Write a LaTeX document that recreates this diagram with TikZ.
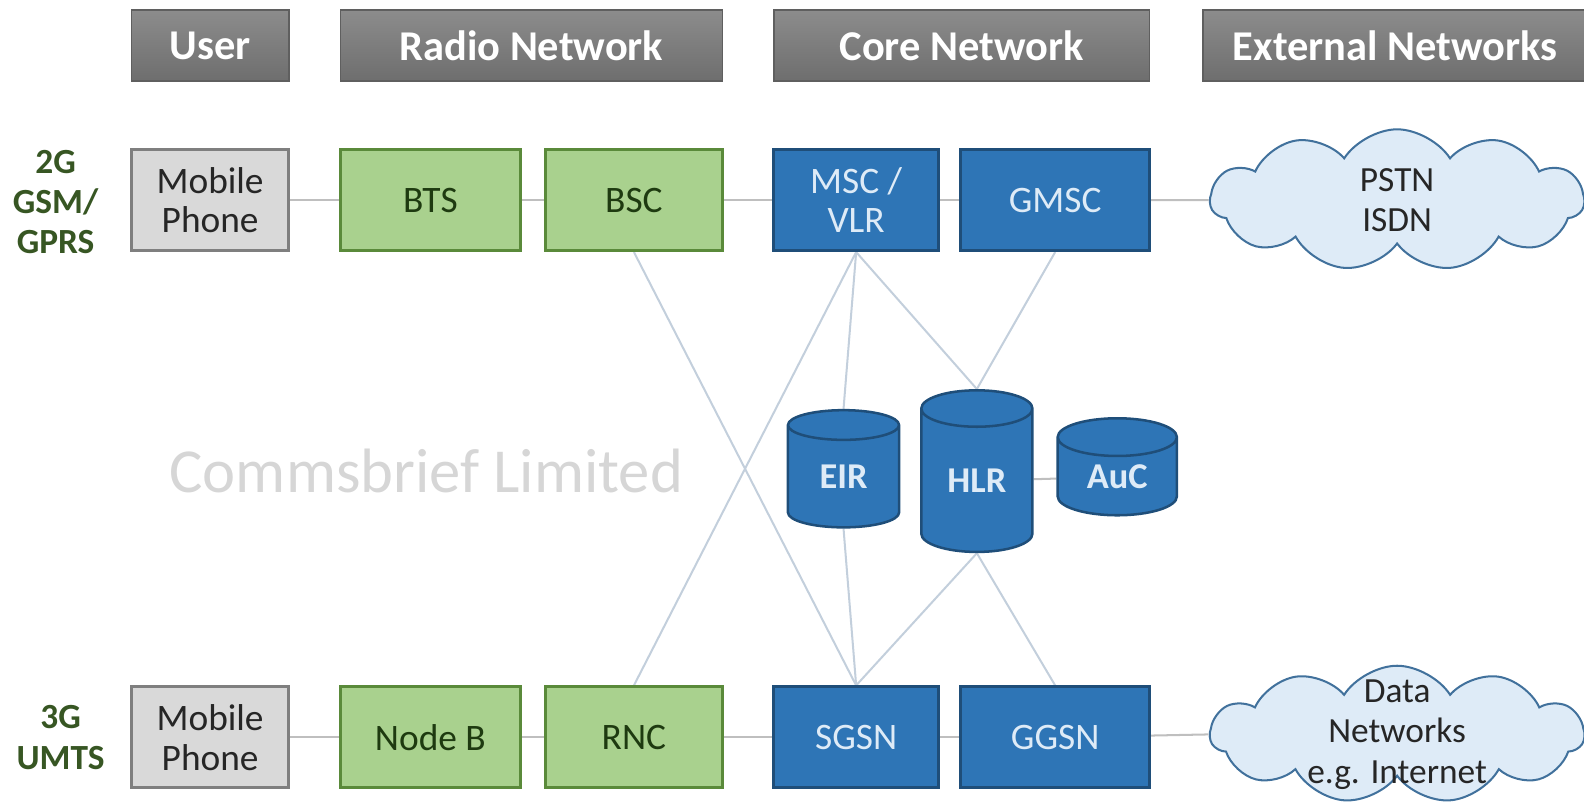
\documentclass[tikz,border=0pt]{standalone}
\usepackage{fontspec}
\setmainfont{Carlito}
\usetikzlibrary{shapes.geometric,shapes.symbols}
\pgfdeclarelayer{background}
\pgfsetlayers{background,main}

\definecolor{hdrtop}{HTML}{8C8C8C}
\definecolor{hdrbot}{HTML}{6E6E6E}
\definecolor{hdredge}{HTML}{5F5F5F}
\definecolor{usrfill}{HTML}{D9D9D9}
\definecolor{usredge}{HTML}{7F7F7F}
\definecolor{usrtext}{HTML}{262626}
\definecolor{grnfill}{HTML}{A9D18E}
\definecolor{grnedge}{HTML}{5A8A3A}
\definecolor{grntext}{HTML}{1E3A10}
\definecolor{blufill}{HTML}{2E75B6}
\definecolor{bluedge}{HTML}{1F4E79}
\definecolor{blutext}{HTML}{DEEBF7}
\definecolor{cloudfill}{HTML}{DEEBF7}
\definecolor{cloudedge}{HTML}{41719C}
\definecolor{cloudtext}{HTML}{262626}
\definecolor{linkcol}{HTML}{C3CFDC}
\definecolor{rowlink}{HTML}{BFBFBF}
\definecolor{gentext}{HTML}{375623}
\definecolor{wmark}{HTML}{D6D6D6}

\begin{document}
\begin{tikzpicture}[x=1pt,y=-1pt,
  hdr/.style={draw=hdredge, line width=1.5pt, top color=hdrtop, bottom color=hdrbot,
    text=white, font=\fontsize{42}{46}\selectfont\bfseries, minimum height=70, inner sep=0pt},
  boxbase/.style={line width=3pt, minimum height=100, inner sep=0pt, align=center,
    font=\fontsize{37}{39}\selectfont},
  usrbox/.style={boxbase, draw=usredge, fill=usrfill, text=usrtext, minimum width=156},
  grnbox/.style={boxbase, draw=grnedge, fill=grnfill, text=grntext},
  blubox/.style={boxbase, draw=bluedge, fill=blufill, text=blutext},
  dbase/.style={cylinder, shape border rotate=90, aspect=0.62, draw=bluedge, fill=blufill,
    line width=2.5pt, text=blutext, inner sep=0pt, font=\fontsize{36}{39}\selectfont\bfseries},
  extnet/.style={cloud, cloud puffs=11, cloud puff arc=115, aspect=2.6, draw=cloudedge,
    fill=cloudfill, line width=2pt, inner sep=0pt, minimum width=370, minimum height=140},
  cloudlabel/.style={align=center, text=cloudtext, font=\fontsize{35}{40}\selectfont},
  gen/.style={align=center, text=gentext, font=\fontsize{35}{40}\selectfont\bfseries},
  link/.style={draw=linkcol, line width=2pt},
  rowline/.style={draw=rowlink, line width=2pt}]
\useasboundingbox (0,0) rectangle (1568,803);

% column headings
\node[hdr, minimum width=156] (hUser) at (208,45) {User};
\node[hdr, minimum width=378] (hRadio) at (526,45) {Radio Network};
\node[hdr, minimum width=372] (hCore) at (952,45) {Core Network};
\node[hdr, minimum width=380] (hExt) at (1381,45) {External Networks};

% generation labels
\node[gen] (g2) at (55,200) {2G\\GSM/\\GPRS};
\node[gen] (g3) at (60,730) {3G\\UMTS};

% watermark
\node[text=wmark, font=\fontsize{62}{66}\selectfont] (wm) at (422,466) {Commsbrief Limited};

% 2G row
\node[usrbox] (mp2) at (208,198) {Mobile\\Phone};
\node[grnbox, minimum width=178] (bts) at (426,198) {BTS};
\node[grnbox, minimum width=175] (bsc) at (627.5,198) {BSC};
\node[blubox, minimum width=163] (msc) at (847.5,198) {MSC /\\VLR};
\node[blubox, minimum width=187] (gmsc) at (1044.5,198) {GMSC};
\node[extnet, label={[cloudlabel]center:PSTN\\ISDN}] (pstn) at (1383,198) {};

% 3G row
\node[usrbox] (mp3) at (208,730) {Mobile\\Phone};
\node[grnbox, minimum width=178] (nodeb) at (426,730) {Node B};
\node[grnbox, minimum width=175] (rnc) at (627.5,730) {RNC};
\node[blubox, minimum width=163] (sgsn) at (847.5,730) {SGSN};
\node[blubox, minimum width=187] (ggsn) at (1044.5,730) {GGSN};
\node[extnet, minimum height=136,
  label={[cloudlabel]center:Data\\Networks\\e.g. Internet}] (data) at (1383,727) {};

% databases
\node[dbase, minimum width=110, minimum height=116] (eir) at (835,472) {EIR};
\node[dbase, minimum width=110, minimum height=160] (hlr) at (967,476) {HLR};
\node[dbase, minimum width=118, minimum height=96] (auc) at (1106,472) {AuC};

\begin{pgfonlayer}{background}
  % chains along each row
  \draw[rowline] (mp2) -- (bts);
  \draw[rowline] (bts) -- (bsc);
  \draw[rowline] (bsc) -- (msc);
  \draw[rowline] (msc) -- (gmsc);
  \draw[rowline] (gmsc) -- (pstn.west);
  \draw[rowline] (mp3) -- (nodeb);
  \draw[rowline] (nodeb) -- (rnc);
  \draw[rowline] (rnc) -- (sgsn);
  \draw[rowline] (sgsn) -- (ggsn);
  \draw[rowline] (ggsn) -- (data.west);
  % cross links through the core
  \draw[link] (bsc.south) -- (sgsn.north);
  \draw[link] (rnc.north) -- (msc.south);
  \draw[link] (msc.south) -- (eir.north);
  \draw[link] (msc.south) -- (hlr.north);
  \draw[link] (gmsc.south) -- (hlr.north);
  \draw[link] (eir.south) -- (sgsn.north);
  \draw[link] (hlr.south) -- (sgsn.north);
  \draw[link] (hlr.south) -- (ggsn.north);
  \draw[rowline] (hlr) -- (auc);
\end{pgfonlayer}
\end{tikzpicture}
\end{document}
